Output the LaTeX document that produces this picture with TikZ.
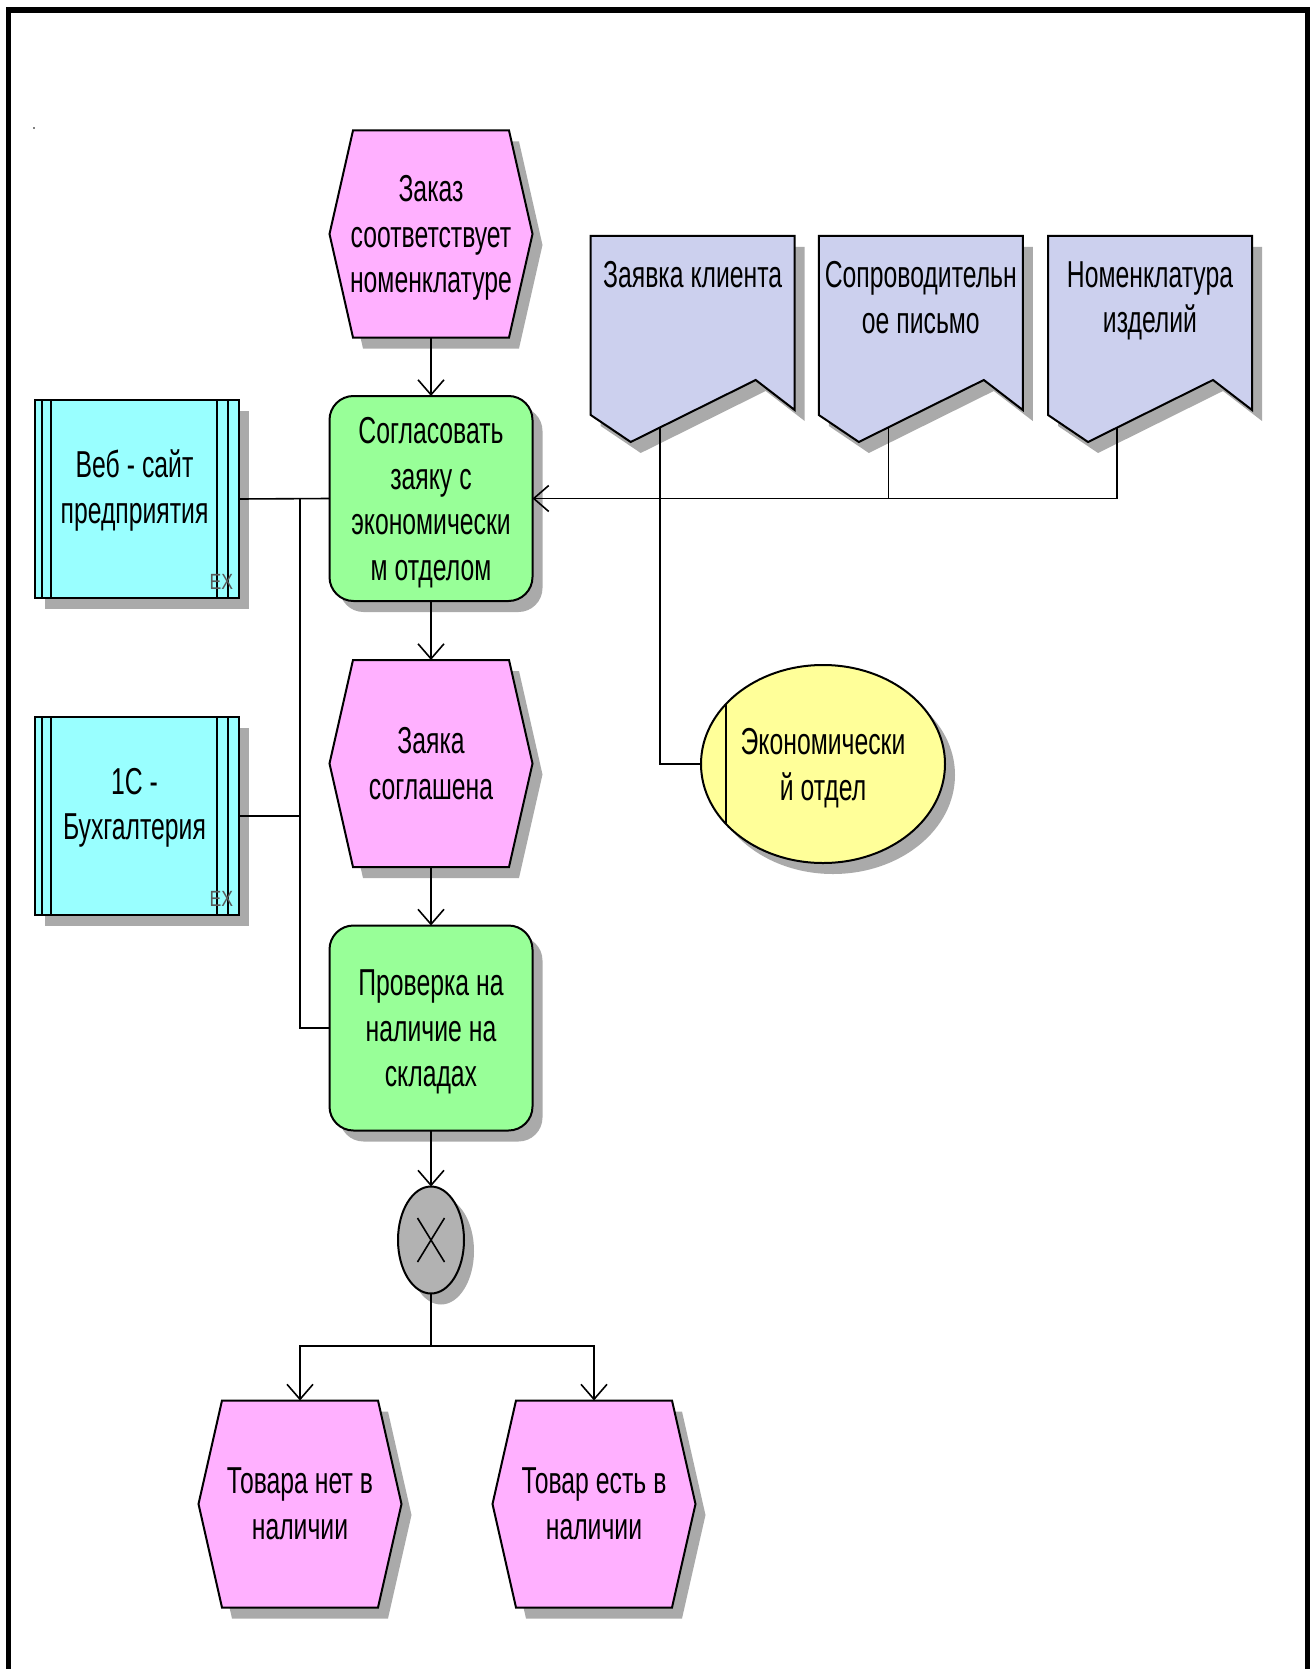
\documentclass[tikz,border=0pt]{standalone}
\usepackage{fontspec}
\setmainfont[FakeStretch=0.66]{Liberation Sans}
\newfontfamily\exfont[FakeStretch=0.8]{Liberation Sans}
\usetikzlibrary{arrows.meta}

\definecolor{evtfill}{RGB}{255,176,255}
\definecolor{fnfill}{RGB}{152,255,152}
\definecolor{sysfill}{RGB}{153,255,255}
\definecolor{docfill}{RGB}{204,208,238}
\definecolor{orgfill}{RGB}{255,255,153}
\definecolor{xorfill}{RGB}{178,178,178}
\definecolor{shadowgray}{RGB}{170,170,170}

\pgfdeclarelayer{shadows}
\pgfdeclarelayer{shapes}
\pgfsetlayers{shadows,shapes,main}

\begin{document}
\begin{tikzpicture}[x=1pt,y=-1pt,
  every node/.style={inner sep=0pt,outer sep=0pt},
  lbl/.style={font=\fontsize{37.5}{45.5}\selectfont,
              align=center,text width=200pt,
              execute at begin node={\spaceskip=7pt\relax}},
  evt/.style={lbl,minimum width=203pt,minimum height=207pt},
  fn/.style={lbl,minimum width=203pt,minimum height=205pt},
  sysbox/.style={minimum width=204pt,minimum height=198pt},
  docbox/.style={minimum width=204pt,minimum height=206pt},
  orgbox/.style={minimum width=244pt,minimum height=198pt},
  xorbox/.style={minimum width=66pt,minimum height=107pt},
  extag/.style={font=\exfont\fontsize{22}{22}\selectfont,text=black!65},
  outline/.style={draw=black,line width=2pt,line join=miter},
  conn/.style={draw=black,line width=1.6pt},
  arr/.style={conn,-{Straight Barb[length=15pt,width=26pt]}},
  hexof/.style={insert path={(#1.west) -- ([xshift=23.5pt]#1.north west)
      -- ([xshift=-23.5pt]#1.north east) -- (#1.east)
      -- ([xshift=-23.5pt]#1.south east) -- ([xshift=23.5pt]#1.south west) -- cycle}},
  docof/.style={insert path={(#1.north west) -- ([yshift=27pt]#1.south west)
      -- ([xshift=40pt]#1.south west) -- ([xshift=-39pt,yshift=62pt]#1.south east)
      -- ([yshift=32pt]#1.south east) -- (#1.north east) -- cycle}},
  boxof/.style={insert path={(#1.north west) rectangle (#1.south east)}},
  rboxof/.style={rounded corners=24pt,insert path={(#1.north west) rectangle (#1.south east)}},
]
\useasboundingbox (0,0) rectangle (1313,1669);
\clip (0,0) rectangle (1313,1669);

% page frame, open at the bottom
\draw[line width=5.5pt,line join=miter] (8.5,1680) -- (8.5,10) -- (1307.5,10) -- (1307.5,1680);
\fill (34,128) circle (0.8pt);

% main process chain
\node[evt] (e1) at (431,234) {};
\node[lbl] at (431,238.3) {Заказ\\соответствует\\номенклатуре};
\node[fn]  (f1) at (431,498.5) {};
\node[lbl] at (431,502.8) {Согласовать\\заяку с\\экономически\\м отделом};
\node[evt] (e2) at (431,763.5) {Заяка\\соглашена};
\node[fn]  (f2) at (431,1028) {};
\node[lbl] at (431,1032.3) {Проверка на\\наличие на\\складах};
\node[xorbox] (x) at (431,1240) {};
\node[evt] (e3) at (300,1504) {Товара нет в\\наличии};
\node[evt] (e4) at (594,1504) {Товар есть в\\наличии};

% application systems
\node[sysbox] (s1) at (137,499) {};
\node[lbl] at ([xshift=-2.5pt,yshift=8.5pt]s1.center) {Веб - сайт\\предприятия};
\node[extag,anchor=south east] at ([xshift=-6pt,yshift=9pt]s1.south east) {EX};
\node[sysbox] (s2) at (137,816) {};
\node[lbl] at ([xshift=-2.5pt,yshift=8pt]s2.center) {1С -\\Бухгалтерия};
\node[extag,anchor=south east] at ([xshift=-6pt,yshift=9pt]s2.south east) {EX};

% input documents
\node[docbox] (d1) at (692.7,339) {};
\node[lbl] at (692.7,274.5) {Заявка клиента};
\node[docbox] (d2) at (920.8,339) {};
\node[lbl] at (920.8,297.4) {Сопроводительн\\ое письмо};
\node[docbox] (d3) at (1150,339) {};
\node[lbl] at (1150,300.6) {Номенклатура\\изделий};

% organisational unit
\node[orgbox] (o) at (823,764) {};
\node[lbl] at (823,768.3) {Экономически\\й отдел};

% shadows
\begin{pgfonlayer}{shadows}
\begin{scope}[transform canvas={shift={(10,11)}}]
  \foreach \n in {e1,e2,e3,e4} {\fill[shadowgray,hexof=\n];}
  \foreach \n in {f1,f2} {\fill[shadowgray,rboxof=\n];}
  \foreach \n in {s1,s2} {\fill[shadowgray,boxof=\n];}
  \foreach \n in {d1,d2,d3} {\fill[shadowgray,docof=\n];}
  \fill[shadowgray] (o.center) ellipse [x radius=122pt,y radius=99pt];
  \fill[shadowgray] (x.center) ellipse [x radius=33pt,y radius=53.5pt];
\end{scope}
\end{pgfonlayer}

% shape bodies
\begin{pgfonlayer}{shapes}
  \foreach \n in {e1,e2,e3,e4} {\path[outline,fill=evtfill,hexof=\n];}
  \foreach \n in {f1,f2} {\path[outline,fill=fnfill,rboxof=\n];}
  \foreach \n in {s1,s2} {
    \path[outline,fill=sysfill,boxof=\n];
    \draw[line width=1.6pt] ([xshift=7pt]\n.north west) -- ([xshift=7pt]\n.south west);
    \draw[line width=1.6pt] ([xshift=16pt]\n.north west) -- ([xshift=16pt]\n.south west);
    \draw[line width=1.6pt] ([xshift=-11pt]\n.north east) -- ([xshift=-11pt]\n.south east);
    \draw[line width=1.6pt] ([xshift=-22pt]\n.north east) -- ([xshift=-22pt]\n.south east);
  }
  \foreach \n in {d1,d2,d3} {\path[outline,fill=docfill,docof=\n];}
  \path[outline,fill=orgfill] (o.center) ellipse [x radius=122pt,y radius=99pt];
  \draw[line width=1.6pt] ([xshift=-97pt,yshift=60pt]o.center) -- ([xshift=-97pt,yshift=-60pt]o.center);
  \path[outline,fill=xorfill] (x.center) ellipse [x radius=33pt,y radius=53.5pt];
  \draw[line width=1.6pt] ([xshift=-13.5pt,yshift=22pt]x.center) -- ([xshift=13.5pt,yshift=-22pt]x.center);
  \draw[line width=1.6pt] ([xshift=13.5pt,yshift=22pt]x.center) -- ([xshift=-13.5pt,yshift=-22pt]x.center);
\end{pgfonlayer}

% control flow
\draw[arr] (e1.south) -- (f1.north);
\draw[arr] (f1.south) -- (e2.north);
\draw[arr] (e2.south) -- (f2.north);
\draw[arr] (f2.south) -- (x.north);
\coordinate (split) at (431,1346);
\draw[conn] (x.south) -- (split);
\draw[arr] (split) -| (e3.north);
\draw[arr] (split) -| (e4.north);

% systems to functions
\coordinate (bus) at (300,498.5);
\draw[conn] (s1.east) -- (f1.west);
\draw[conn] (bus) |- (f2.west);
\draw[conn] (s2.east) -- (s2.east -| bus);

% documents and organisational unit to function
\coordinate (d1c) at (660,427.5);
\coordinate (d2c) at (888.5,427);
\coordinate (d3c) at (1117,427.5);
\draw[arr] (d3c) |- (f1.east);
\draw[conn] (d1c) -- (d1c |- f1.east);
\draw[conn] (d2c) -- (d2c |- f1.east);
\draw[conn] (o.west) -| (d1c |- f1.east);
\end{tikzpicture}
\end{document}
